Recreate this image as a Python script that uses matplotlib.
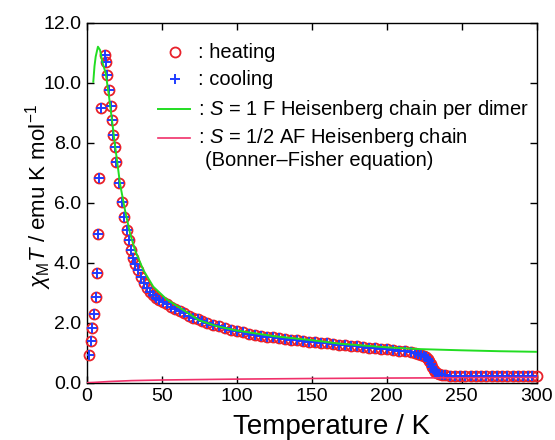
import matplotlib
matplotlib.use("Agg")
import matplotlib.pyplot as plt

plt.rcParams['font.family'] = ['Liberation Sans', 'DejaVu Sans']
plt.rcParams['mathtext.fontset'] = 'custom'
plt.rcParams['mathtext.rm'] = 'Liberation Sans'
plt.rcParams['mathtext.it'] = 'Liberation Sans:italic'
plt.rcParams['mathtext.bf'] = 'Liberation Sans:bold'

# ---- data ----
T_heat = [1.5, 2.7, 3.7, 4.9, 6.0, 7.1, 7.6, 8.3, 9.3, 12.0, 12.7, 13.7, 14.9, 16.2, 16.9, 17.7,
          18.7, 19.5, 21.5, 23.3, 24.9, 26.7, 27.9, 29.3,
          31.0, 32.5, 34.4, 36.5, 38.5, 40.5, 42.5, 44.5,
          46.5, 48.5, 51, 53.5, 56, 59, 62, 65, 68, 71, 74, 77,
          80, 84, 88, 92, 96, 100, 104, 108, 112, 116, 120, 124, 128, 132, 136, 140, 144, 148,
          152, 156, 160, 164, 168, 172, 176, 180, 184, 188, 192, 196, 200, 204, 208, 212, 216,
          219, 221, 223, 225, 226.5, 227.5, 228.5, 229.5, 230.5, 231.5, 232.5, 233.5, 235, 237, 239, 242,
          245.5, 249, 252.5, 256, 259.5, 263, 266.5, 270, 273.5, 277, 280.5, 284, 287.5, 291, 294.5, 297, 300]
chiT_heat = [0.92, 1.39, 1.81, 2.29, 2.85, 3.65, 4.96, 6.81, 9.15, 10.92, 10.70, 10.26, 9.76, 9.22, 8.76, 8.26,
             7.87, 7.37, 6.65, 6.03, 5.53, 5.09, 4.76, 4.42,
             4.15, 3.95, 3.75, 3.52, 3.33, 3.17, 3.04, 2.93,
             2.84, 2.76, 2.68, 2.61, 2.54, 2.46, 2.38, 2.31, 2.24, 2.17, 2.11, 2.05,
             2.00, 1.94, 1.88, 1.82, 1.77, 1.72, 1.68, 1.64, 1.60, 1.57, 1.54, 1.51, 1.48, 1.46, 1.43, 1.41, 1.39, 1.37,
             1.35, 1.33, 1.31, 1.29, 1.27, 1.25, 1.23, 1.21, 1.19, 1.17, 1.15, 1.13, 1.11, 1.09, 1.07, 1.05, 1.02,
             0.99, 0.96, 0.93, 0.89, 0.85, 0.80, 0.72, 0.62, 0.52, 0.43, 0.36, 0.31, 0.28, 0.26, 0.25, 0.24,
             0.24, 0.24, 0.24, 0.24, 0.24, 0.24, 0.24, 0.24, 0.24, 0.24, 0.24, 0.24, 0.24, 0.24, 0.24, 0.24, 0.24]
T_cool = T_heat[:-1]
chiT_cool = chiT_heat[:-1]

T_ferro = [4.4, 5.2, 6.0, 7.5, 8.9, 10.4, 12.7, 14.9, 17.1, 18.7, 20.5, 22.2, 25.5, 28.9, 32.2, 37.7,
           44.4, 53.3, 62, 75, 87, 100, 125, 150, 169, 200, 222, 250, 275, 300]
chiT_ferro = [10.03, 10.55, 10.87, 11.2, 11.09, 10.70, 10.31, 9.53, 8.65, 7.98, 7.3, 6.64, 5.76, 4.98, 4.42, 3.76,
              3.2, 2.78, 2.50, 2.08, 1.88, 1.74, 1.55, 1.42, 1.30, 1.18, 1.12, 1.08, 1.05, 1.03]

T_bf = [0, 5, 15, 30, 50, 100, 150, 200, 250, 300]
chiT_bf = [0.0, 0.01, 0.04, 0.07, 0.09, 0.12, 0.14, 0.155, 0.165, 0.175]

x_ticks = [0, 50, 100, 150, 200, 250, 300]
y_ticks = [0.0, 2.0, 4.0, 6.0, 8.0, 10.0, 12.0]

assert len(T_heat) == len(chiT_heat)
assert len(T_ferro) == len(chiT_ferro)

RED = '#e8212b'
BLUE = '#1f3cff'
GREEN = '#22dd22'
PINK = '#f0306a'

fig = plt.figure(figsize=(5.55, 4.4), dpi=100)
ax = fig.add_axes([0.1562, 0.1302, 0.8108, 0.8182])

ax.plot(T_heat, chiT_heat, linestyle='none', marker='o', ms=7.2, mfc='none', mec=RED, mew=1.3,
        clip_on=False, zorder=3)
ax.plot(T_cool, chiT_cool, linestyle='none', marker='+', ms=7, mec=BLUE, mew=1.4, zorder=4)
ax.plot(T_ferro, chiT_ferro, color=GREEN, lw=1.4, zorder=5)
ax.plot(T_bf, chiT_bf, color=PINK, lw=1.2, zorder=5)

ax.set_xlim(0, 300)
ax.set_ylim(0, 12)
ax.set_xticks(x_ticks)
ax.set_xticklabels([f"{v:d}" for v in x_ticks])
ax.set_yticks(y_ticks)
ax.set_yticklabels([f"{v:.1f}" for v in y_ticks])
ax.tick_params(direction='in', length=5, width=1, top=True, right=True, labelsize=14, pad=4)
for s in ax.spines.values():
    s.set_linewidth(1.0)

ax.text(0.545, -0.123, 'Temperature / K', transform=ax.transAxes, ha='center', va='center', fontsize=20)
ax.text(-0.108, 0.516, r'$\chi_{\rm M}\mathit{T}$ / emu K mol$^{-1}$', transform=ax.transAxes,
        ha='center', va='center', rotation=90, fontsize=16)

# legend (manual)
lx_m = 0.196
lx0, lx1 = 0.158, 0.230
tx = 0.248
rows = [0.918, 0.843, 0.760, 0.680]
fs = 14.5
ax.plot([lx_m], [rows[0]], transform=ax.transAxes, marker='o', ms=7.2, mfc='none', mec=RED, mew=1.3, ls='none')
ax.plot([lx_m], [rows[1]], transform=ax.transAxes, marker='+', ms=7, mec=BLUE, mew=1.4, ls='none')
ax.plot([lx0, lx1], [rows[2], rows[2]], transform=ax.transAxes, color=GREEN, lw=1.4)
ax.plot([lx0, lx1], [rows[3], rows[3]], transform=ax.transAxes, color=PINK, lw=1.2)
ax.text(tx, rows[0], ': heating', transform=ax.transAxes, va='center', fontsize=fs)
ax.text(tx, rows[1], ': cooling', transform=ax.transAxes, va='center', fontsize=fs)
ax.text(tx, rows[2], r': $\mathit{S}$ = 1 F Heisenberg chain per dimer', transform=ax.transAxes, va='center', fontsize=fs)
ax.text(tx, rows[3], r': $\mathit{S}$ = 1/2 AF Heisenberg chain', transform=ax.transAxes, va='center', fontsize=fs)
ax.text(tx + 0.015, rows[3] - 0.062, '(Bonner\u2013Fisher equation)', transform=ax.transAxes, va='center', fontsize=fs)

fig.savefig('out.png', dpi=100)
